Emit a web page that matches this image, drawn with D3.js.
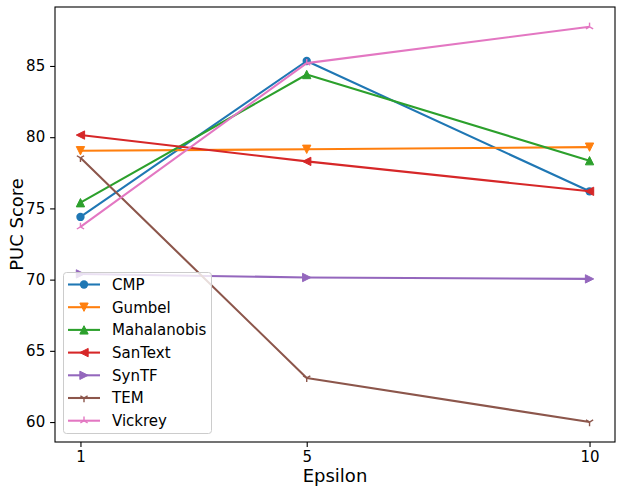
<!DOCTYPE html>
<html><head><meta charset="utf-8">
<script src="https://cdn.jsdelivr.net/npm/d3@7"></script>
<style>body{margin:0;background:#fff}svg{display:block}</style>
</head><body><svg id="c" width="620" height="493"></svg>
<script>
const epsilons = [1, 5, 10];
const seriesNames = ["CMP","Gumbel","Mahalanobis","SanText","SynTF","TEM","Vickrey"];
const cmp = [74.4, 85.35, 76.2];
const gumbel = [79.05, 79.15, 79.3];
const mahalanobis = [75.4, 84.4, 78.35];
const santext = [80.15, 78.3, 76.2];
const syntf = [70.4, 70.15, 70.05];
const tem = [78.55, 63.1, 60.0];
const vickrey = [73.7, 85.2, 87.75];
const yTicks = [60, 65, 70, 75, 80, 85];
const colors = ["#1f77b4","#ff7f0e","#2ca02c","#d62728","#9467bd","#8c564b","#e377c2"];
const markers = ["o","v","^","<",">","1","2"];
const values = [cmp, gumbel, mahalanobis, santext, syntf, tem, vickrey];

const svg = d3.select("#c");
const L=55, R=615, T=7, B=442;
const x = d3.scaleLinear().domain([0.55, 10.45]).range([L, R]);
const y = d3.scaleLinear().domain([58.6, 89.14]).range([B, T]);
const font = "DejaVu Sans, sans-serif";

const ms = 4.17;
function marker(g, type, cx, cy, color){
  if(type==="o"){
    g.append("circle").attr("cx",cx).attr("cy",cy).attr("r",ms).attr("fill",color);
    return;
  }
  if(type==="1"||type==="2"){
    const dir = type==="1"?1:-1;
    const pts = [[0,ms*dir],[-ms*0.866,-ms*0.5*dir],[ms*0.866,-ms*0.5*dir]];
    pts.forEach(p=>g.append("line").attr("x1",cx).attr("y1",cy).attr("x2",cx+p[0]).attr("y2",cy+p[1])
      .attr("stroke",color).attr("stroke-width",1.4));
    return;
  }
  let pts;
  if(type==="^") pts=[[0,-ms],[-ms,ms],[ms,ms]];
  if(type==="v") pts=[[0,ms],[-ms,-ms],[ms,-ms]];
  if(type==="<") pts=[[-ms,0],[ms,-ms],[ms,ms]];
  if(type===">") pts=[[ms,0],[-ms,-ms],[-ms,ms]];
  g.append("path").attr("d","M"+pts.map(p=>(cx+p[0])+","+(cy+p[1])).join("L")+"Z")
    .attr("fill",color).attr("stroke",color).attr("stroke-width",1).attr("stroke-linejoin","miter");
}

const plot = svg.append("g");
const line = d3.line().x((d,i)=>x(epsilons[i])).y(d=>y(d));
values.forEach((vals,k)=>{
  const g = plot.append("g");
  g.append("path").attr("d", line(vals)).attr("fill","none").attr("stroke",colors[k])
    .attr("stroke-width",2.08).attr("stroke-linejoin","round").attr("stroke-linecap","butt");
  vals.forEach((v,i)=>marker(g, markers[k], x(epsilons[i]), y(v), colors[k]));
});

// axes
const xAxis = d3.axisBottom(x).tickValues(epsilons).tickSize(4.9).tickPadding(4.9).tickFormat(d3.format("d"));
const yAxis = d3.axisLeft(y).tickValues(yTicks).tickSize(4.9).tickPadding(4.9).tickFormat(d3.format("d"));
const gx = svg.append("g").attr("transform",`translate(0,${B})`).call(xAxis);
const gy = svg.append("g").attr("transform",`translate(${L},0)`).call(yAxis);
[gx,gy].forEach(g=>{
  g.select(".domain").remove();
  g.selectAll(".tick line").attr("stroke","#000").attr("stroke-width",1.1);
  g.selectAll(".tick text").attr("fill","#000").style("font-family",font).style("font-size","15px");
});
svg.append("rect").attr("x",L).attr("y",T).attr("width",R-L).attr("height",B-T)
  .attr("fill","none").attr("stroke","#000").attr("stroke-width",1.1);

svg.append("text").attr("x",335).attr("y",482).attr("text-anchor","middle")
  .style("font-family",font).style("font-size","18px").text("Epsilon");
svg.append("text").attr("transform",`translate(23,${(T+B)/2}) rotate(-90)`).attr("text-anchor","middle")
  .style("font-family",font).style("font-size","18px").text("PUC Score");

// legend
const lg = svg.append("g");
lg.append("rect").attr("x",63.5).attr("y",272.5).attr("width",148).attr("height",161).attr("rx",3)
  .attr("fill","#fff").attr("fill-opacity",0.8).attr("stroke","#ccc").attr("stroke-width",1);
seriesNames.forEach((n,k)=>{
  const cy = 284.5 + k*22.7;
  lg.append("line").attr("x1",68).attr("x2",100).attr("y1",cy).attr("y2",cy)
    .attr("stroke",colors[k]).attr("stroke-width",2.08);
  marker(lg, markers[k], 84, cy, colors[k]);
  lg.append("text").attr("x",112).attr("y",cy).attr("dy","0.36em")
    .style("font-family",font).style("font-size","15px").text(n);
});
</script></body></html>
